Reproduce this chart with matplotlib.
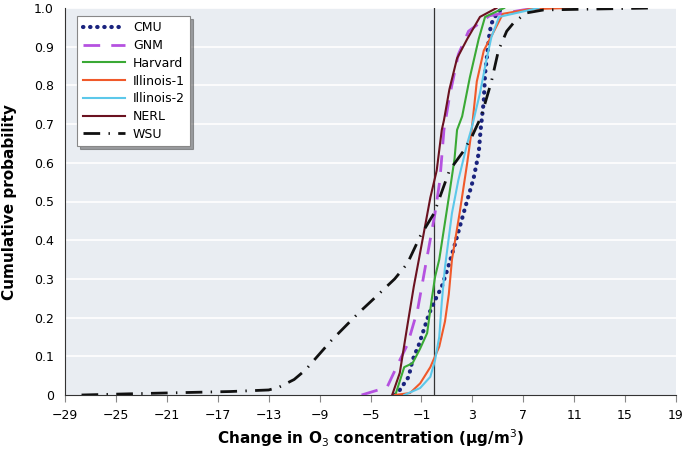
import matplotlib
matplotlib.use("Agg")
import matplotlib.pyplot as plt
from matplotlib import font_manager

names = {f.name for f in font_manager.fontManager.ttflist}
fam = ['Liberation Sans Narrow', 'DejaVu Sans'] if 'Liberation Sans Narrow' in names else ['DejaVu Sans']
plt.rcParams['font.family'] = fam

# ---- data ----
cmu_x = [-3.1, -2.7, -2.0, -1.7, -1.2, -0.8, -0.4, 0.07, 0.6, 1.0, 1.55, 2.4, 3.1, 3.5, 3.65, 3.9, 4.0, 4.35, 4.5, 5.0, 5.5]
cmu_y = [0.0, 0.013, 0.047, 0.09, 0.13, 0.17, 0.21, 0.245, 0.28, 0.32, 0.38, 0.48, 0.56, 0.625, 0.685, 0.76, 0.83, 0.935, 0.96, 0.99, 1.0]

gnm_x = [-5.7, -3.7, -2.7, -2.1, -1.3, -0.7, 0.07, 0.45, 0.77, 1.2, 1.9, 2.7, 4.35, 7.0, 8.2]
gnm_y = [0.0, 0.02, 0.09, 0.13, 0.22, 0.33, 0.47, 0.555, 0.685, 0.77, 0.88, 0.94, 0.98, 0.995, 1.0]

harv_x = [-3.0, -2.35, -1.7, -1.1, -0.55, -0.2, 0.07, 0.4, 1.15, 1.6, 1.8, 2.2, 2.8, 3.5, 4.0, 5.5]
harv_y = [0.005, 0.072, 0.082, 0.12, 0.16, 0.245, 0.305, 0.35, 0.51, 0.61, 0.685, 0.72, 0.82, 0.92, 0.977, 1.0]

ill1_x = [-3.1, -1.9, -1.1, -0.3, 0.4, 0.85, 1.15, 1.4, 2.0, 2.6, 2.95, 3.35, 3.9, 4.7, 5.4, 7.5, 10.6]
ill1_y = [0.0, 0.005, 0.03, 0.072, 0.125, 0.19, 0.26, 0.35, 0.47, 0.60, 0.685, 0.81, 0.89, 0.94, 0.985, 0.997, 1.0]

ill2_x = [-2.35, -1.1, -0.3, 0.07, 0.4, 0.6, 0.85, 1.4, 1.9, 2.6, 2.95, 3.6, 4.1, 4.5, 5.1, 8.2]
ill2_y = [0.0, 0.018, 0.047, 0.09, 0.15, 0.24, 0.33, 0.47, 0.555, 0.65, 0.69, 0.78, 0.865, 0.925, 0.977, 1.0]

nerl_x = [-3.3, -2.7, -2.1, -1.6, -1.2, -0.3, 0.2, 0.6, 0.77, 1.2, 1.8, 2.6, 3.6, 4.9]
nerl_y = [0.0, 0.057, 0.18, 0.28, 0.35, 0.51, 0.58, 0.685, 0.71, 0.79, 0.87, 0.92, 0.977, 1.0]

wsu_x = [-27.7, -24, -20, -16, -13, -12.2, -11, -10.1, -8.1, -6.0, -4.7, -3.1, -2.1, -1.1, 0.0, 1.2, 2.3, 3.0, 3.7, 4.5, 5.05, 5.7, 6.2, 7.2, 8.6, 12, 17.2]
wsu_y = [0.0, 0.003, 0.006, 0.009, 0.013, 0.02, 0.04, 0.065, 0.14, 0.21, 0.25, 0.30, 0.34, 0.41, 0.47, 0.58, 0.63, 0.67, 0.72, 0.81, 0.89, 0.94, 0.96, 0.987, 0.995, 0.997, 1.0]

x_ticks = list(range(-29, 20, 4))
y_ticks = [0, 0.1, 0.2, 0.3, 0.4, 0.5, 0.6, 0.7, 0.8, 0.9, 1.0]
y_tick_labels = ['0', '0.1', '0.2', '0.3', '0.4', '0.5', '0.6', '0.7', '0.8', '0.9', '1.0']

fig = plt.figure(figsize=(6.85, 4.54), dpi=100)
ax = fig.add_axes([65/685, 59/454, 611/685, 387/454])
ax.set_facecolor('#e9edf2')
for yt in y_ticks[1:]:
    ax.axhline(yt, color='white', lw=1.2, zorder=0)

ax.axvline(0, color='#333333', lw=0.9, zorder=1)

ax.plot(cmu_x, cmu_y, color='#1a237e', lw=3, linestyle=(0, (0.1, 1.6)), dash_capstyle='round', label='CMU', zorder=3)
ax.plot(gnm_x, gnm_y, color='#b552e0', lw=2, linestyle=(0, (6, 4)), label='GNM', zorder=3)
ax.plot(harv_x, harv_y, color='#3aa935', lw=1.5, label='Harvard', zorder=3)
ax.plot(ill1_x, ill1_y, color='#f0592a', lw=1.5, label='Illinois-1', zorder=3)
ax.plot(ill2_x, ill2_y, color='#5cc8ea', lw=1.5, label='Illinois-2', zorder=3)
ax.plot(nerl_x, nerl_y, color='#6b1220', lw=1.5, label='NERL', zorder=3)
ax.plot(wsu_x, wsu_y, color='#111111', lw=2, linestyle=(0, (6, 3, 0.5, 3)), label='WSU', zorder=3)

ax.set_xlim(-29, 19)
ax.set_ylim(0, 1.0)
ax.set_xticks(x_ticks)
ax.set_xticklabels([str(t).replace('-', '\u2212') for t in x_ticks], fontsize=9)
ax.set_yticks(y_ticks)
ax.set_yticklabels(y_tick_labels, fontsize=9)
ax.tick_params(axis='x', length=5, color='#888888', direction='out', pad=5)
ax.tick_params(axis='y', length=0, pad=8)
for s in ['top', 'right']:
    ax.spines[s].set_visible(False)
ax.spines['left'].set_color('#333333')
ax.spines['bottom'].set_color('#333333')

ax.set_xlabel('Change in O$_3$ concentration (\u03bcg/m$^3$)', fontsize=11, fontweight='bold', labelpad=4)
ax.set_ylabel('Cumulative probability', fontsize=11, fontweight='bold', labelpad=12)

leg = ax.legend(loc='upper left', bbox_to_anchor=(0.02, 0.98), borderaxespad=0, fontsize=9, frameon=True,
                fancybox=False, shadow=True, handlelength=3.4, handletextpad=0.6,
                borderpad=0.45, labelspacing=0.38)
leg.get_frame().set_edgecolor('#888888')
leg.get_frame().set_linewidth(0.8)

fig.savefig('out.png', dpi=100)
